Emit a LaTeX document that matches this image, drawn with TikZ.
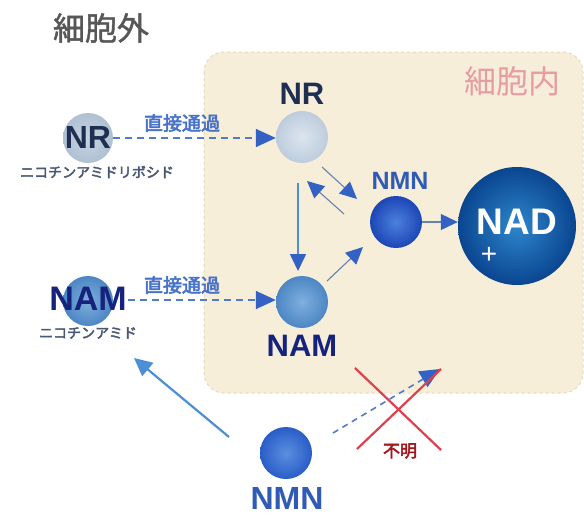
\documentclass[tikz,border=0pt]{standalone}
\usepackage{fontspec}
\setmainfont{Liberation Sans}
\newfontfamily\jp{Noto Sans CJK JP}[AutoFakeBold=3]
\newfontfamily\jpt{Noto Sans CJK JP}[AutoFakeBold=1.3]
\usetikzlibrary{arrows.meta,shapes.geometric}
\definecolor{cream}{HTML}{F6EED9}
\definecolor{creamedge}{HTML}{E3D9BE}
\definecolor{navy}{HTML}{1E2F52}
\definecolor{midblue}{HTML}{2F5BB5}
\definecolor{tipblue}{HTML}{3462C4}
\definecolor{lineblue}{HTML}{6482B2}
\definecolor{skyblue}{HTML}{4C8FD6}
\definecolor{pinktxt}{HTML}{E79CA3}
\definecolor{xred}{HTML}{E0404E}
\definecolor{darkred}{HTML}{A0181C}
\definecolor{nrout}{HTML}{AFC0D3}
\definecolor{nrouti}{HTML}{C9D5E2}
\definecolor{nrin}{HTML}{BDCCDD}
\definecolor{nrini}{HTML}{DCE5EE}
\definecolor{namo}{HTML}{4C86C4}
\definecolor{nami}{HTML}{7FB0DE}
\definecolor{nmno}{HTML}{1C46B6}
\definecolor{nmni}{HTML}{4C80DC}
\definecolor{nado}{HTML}{0A4590}
\definecolor{nadi}{HTML}{2E86CC}
\definecolor{bnmno}{HTML}{2A5CC8}
\definecolor{bnmni}{HTML}{5A90E0}
\tikzset{
  ball/.style={circle,minimum size=#1,inner sep=0pt,shading=radial},
  bigtip/.style={-{Triangle[length=20pt,width=18pt,fill=tipblue,color=tipblue]}},
  midtip/.style={-{Triangle[length=17pt,width=16pt,fill=tipblue,color=tipblue]}},
  dashedarrow/.style={bigtip,draw=tipblue!85,dashed,dash pattern=on 7pt off 5pt,line width=1.6pt},
  thinarrow/.style={midtip,draw=lineblue,line width=1.1pt},
  lbl/.style={inner sep=0pt},
  jplbl/.style={inner sep=0pt}
}
\begin{document}
\begin{tikzpicture}[x=1pt,y=-1pt]
\useasboundingbox (0,0) rectangle (584,515);
% cell box
\draw[fill=cream,draw=creamedge,dashed,line width=1pt,rounded corners=20pt] (204,52) rectangle (583,393);
% titles
\node[font=\jpt\bfseries\fontsize{32}{32}\selectfont,text=black!66,inner sep=0pt] (out) at (101,28) {細胞外};
\node[font=\jp\fontsize{32}{32}\selectfont,text=pinktxt,inner sep=0pt] (in) at (512,81) {細胞内};
% outside NR
\node[ball=50pt,inner color=nrouti,outer color=nrout] (onr) at (88,138) {};
\node[lbl,font=\bfseries\fontsize{32}{32}\selectfont,text=navy] (onrt) at (88,137) {NR};
\node[jplbl,font=\jp\bfseries\fontsize{14}{14}\selectfont,text=navy!80] (onrj) at (97,172) {ニコチンアミドリボシド};
% outside NAM
\node[ball=50pt,inner color=nami,outer color=namo] (onam) at (88,301) {};
\node[lbl,font=\bfseries\fontsize{34}{34}\selectfont,text=navy!75!blue] (onamt) at (88,299) {NAM};
\node[jplbl,font=\jp\bfseries\fontsize{14}{14}\selectfont,text=navy!80] (onamj) at (88,333) {ニコチンアミド};
% inside
\node[ball=52pt,inner color=nrini,outer color=nrin] (inr) at (302,137) {};
\node[lbl,font=\bfseries\fontsize{31}{31}\selectfont,text=navy] (inrt) at (302,94) {NR};
\node[ball=52pt,inner color=nami,outer color=namo] (inam) at (302,302) {};
\node[lbl,font=\bfseries\fontsize{31}{31}\selectfont,text=navy!75!blue] (inamt) at (302,346) {NAM};
\node[ball=52pt,inner color=nmni,outer color=nmno] (inmn) at (396,222) {};
\node[lbl,font=\bfseries\fontsize{25}{25}\selectfont,text=midblue] (inmnt) at (400,181) {NMN};
\node[ball=118pt,inner color=nadi,outer color=nado] (nad) at (517,226) {};
\node[lbl,font=\bfseries\fontsize{37}{37}\selectfont,text=white] (nadt) at (517,222) {NAD};
\node[inner sep=0pt,font=\fontsize{28}{28}\selectfont,text=white] (plus) at (489,255) {+};
% bottom NMN
\node[ball=52pt,inner color=bnmni,outer color=bnmno] (bnmn) at (286,453) {};
\node[lbl,font=\bfseries\fontsize{32}{32}\selectfont,text=midblue] (bnmnt) at (287,498) {NMN};
% direct passage
\node[jplbl,font=\jp\bfseries\fontsize{19}{19}\selectfont,text=tipblue!90] (d1) at (182,123) {直接通過};
\node[jplbl,font=\jp\bfseries\fontsize{19}{19}\selectfont,text=tipblue!90] (d2) at (182,285) {直接通過};
\draw[dashedarrow] (onrt.east) ++(2,1) coordinate (s1) -- (inr.west |- s1) coordinate (e1);
\draw[dashedarrow] (onamt.east) ++(1,1) coordinate (s2) -- (inam.west |- s2);
% inner arrows
\coordinate (a1s) at (322,167); \coordinate (a1e) at (357,199);
\draw[thinarrow] (a1s) -- (a1e);
\coordinate (a2s) at (344,214); \coordinate (a2e) at (307,181);
\draw[thinarrow] (a2s) -- (a2e);
\coordinate (a3s) at (298,183); \coordinate (a3e) at (298,271);
\draw[midtip,draw=skyblue,line width=1.6pt] (a3s) -- (a3e);
\coordinate (a4s) at (327,281); \coordinate (a4e) at (363,247);
\draw[thinarrow] (a4s) -- (a4e);
\draw[thinarrow] (inmn.east) -- (inmn.east -| nad.west);
% bottom arrows
\coordinate (b1s) at (229,437); \coordinate (b1e) at (134,358);
\draw[-{Triangle[length=18pt,width=17pt]},draw=skyblue,fill=skyblue,line width=2.2pt] (b1s) -- (b1e);
\coordinate (b2s) at (333,433); \coordinate (b2e) at (440,369);
\draw[dashedarrow,dash pattern=on 6pt off 5pt] (b2s) -- (b2e);
% red X
\coordinate (x1) at (355,368); \coordinate (x2) at (441,450);
\coordinate (x3) at (357,449); \coordinate (x4) at (441,369);
\draw[xred,line width=2.2pt] (x1) -- (x2);
\draw[xred,line width=2.2pt] (x3) -- (x4);
\node[jplbl,font=\jp\bfseries\fontsize{17}{17}\selectfont,text=darkred] (unk) at (400,451) {不明};
\end{tikzpicture}
\end{document}
